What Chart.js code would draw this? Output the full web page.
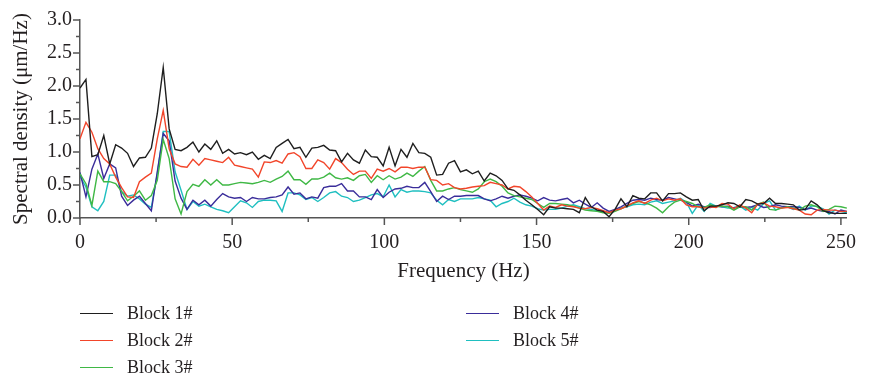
<!DOCTYPE html>
<html>
<head>
<meta charset="utf-8">
<script src="https://cdn.jsdelivr.net/npm/chart.js@4.4.0/dist/chart.umd.min.js"></script>
<style>
  body { margin: 0; background: #fff; }
  #contenedor { position: relative; width: 869px; height: 381px; }
  .leyenda { position: absolute; height: 22px; line-height: 22px; font: 18px "Liberation Serif", serif; color: #231f20; display: flex; align-items: center; white-space: nowrap; }
  .leyenda .linea { display: inline-block; width: 33px; height: 0; border-top: 1.5px solid; margin-right: 14px; }
</style>
</head>
<body>
<div id="contenedor">
  <canvas id="grafico" width="869" height="381"></canvas>
</div>
<script>
// Datos del espectro (paso de frecuencia 500/256 Hz)
const pasoHz = 500 / 256;
const series = ['Block 1#', 'Block 2#', 'Block 3#', 'Block 4#', 'Block 5#'];
const colores = ['#1e1e1e', '#f2452a', '#3fb845', '#3a2d9a', '#1fbfc0'];

const bloque1 = [1.97,2.10,0.93,0.96,1.25,0.82,1.11,1.06,0.98,0.78,
  0.91,0.92,1.06,1.58,2.28,1.35,1.04,1.02,1.07,1.15,
  1.00,1.12,1.04,1.17,0.98,1.04,0.97,0.99,0.96,1.00,
  0.89,0.95,0.90,1.07,1.13,1.19,1.05,1.07,0.92,1.06,
  1.07,1.10,1.03,1.02,0.85,0.98,0.88,0.83,1.03,0.93,
  0.92,0.79,1.07,0.79,1.04,0.92,1.13,0.99,0.98,0.92,
  0.65,0.66,0.83,0.87,0.70,0.73,0.67,0.71,0.56,0.68,
  0.64,0.57,0.44,0.42,0.35,0.27,0.20,0.13,0.05,0.17,
  0.15,0.15,0.14,0.13,0.08,0.31,0.17,0.12,0.10,0.02,
  0.13,0.29,0.17,0.34,0.30,0.29,0.38,0.38,0.26,0.37,
  0.37,0.38,0.32,0.27,0.28,0.11,0.18,0.18,0.20,0.23,
  0.22,0.17,0.28,0.26,0.21,0.22,0.30,0.22,0.22,0.21,
  0.20,0.12,0.13,0.26,0.20,0.11,0.08,0.07,0.07,0.07];

const bloque2 = [1.20,1.45,1.30,1.05,0.90,0.82,0.62,0.46,0.32,0.31,
  0.55,0.62,0.68,1.20,1.63,1.05,0.82,0.78,0.77,0.89,
  0.80,0.90,0.88,0.86,0.84,0.92,0.80,0.78,0.76,0.74,
  0.62,0.85,0.84,0.87,0.83,0.97,0.99,0.93,0.75,0.75,
  0.88,0.84,0.74,0.90,0.84,0.74,0.66,0.71,0.71,0.60,
  0.74,0.71,0.75,0.70,0.77,0.77,0.75,0.77,0.77,0.58,
  0.57,0.50,0.52,0.46,0.44,0.45,0.47,0.48,0.49,0.54,
  0.52,0.50,0.44,0.48,0.47,0.40,0.32,0.22,0.12,0.18,
  0.16,0.20,0.18,0.17,0.15,0.14,0.16,0.14,0.11,0.08,
  0.12,0.14,0.18,0.23,0.26,0.22,0.27,0.30,0.26,0.29,
  0.27,0.29,0.20,0.17,0.17,0.15,0.17,0.16,0.22,0.21,
  0.14,0.20,0.15,0.08,0.21,0.23,0.18,0.17,0.15,0.16,
  0.14,0.12,0.06,0.05,0.12,0.13,0.12,0.12,0.10,0.10];

const bloque3 = [0.67,0.52,0.19,0.71,0.55,0.55,0.52,0.40,0.26,0.33,
  0.41,0.27,0.34,0.57,1.19,0.90,0.29,0.06,0.40,0.51,
  0.48,0.58,0.50,0.58,0.50,0.50,0.52,0.54,0.53,0.52,
  0.54,0.57,0.54,0.59,0.63,0.71,0.58,0.58,0.51,0.59,
  0.59,0.62,0.68,0.61,0.59,0.61,0.57,0.64,0.66,0.54,
  0.64,0.58,0.64,0.59,0.62,0.68,0.63,0.71,0.78,0.57,
  0.41,0.41,0.44,0.46,0.43,0.41,0.39,0.44,0.55,0.59,
  0.55,0.48,0.38,0.34,0.32,0.30,0.28,0.22,0.16,0.22,
  0.22,0.21,0.20,0.18,0.15,0.12,0.11,0.10,0.08,0.07,
  0.10,0.14,0.18,0.22,0.25,0.23,0.20,0.15,0.08,0.17,
  0.24,0.27,0.25,0.22,0.17,0.16,0.20,0.17,0.18,0.17,
  0.12,0.17,0.17,0.12,0.21,0.24,0.13,0.12,0.15,0.17,
  0.15,0.12,0.18,0.20,0.17,0.10,0.13,0.18,0.17,0.15];

const bloque4 = [0.69,0.32,0.74,0.97,0.60,0.82,0.76,0.33,0.19,0.27,
  0.33,0.22,0.11,0.70,1.28,1.17,0.56,0.30,0.13,0.27,
  0.20,0.27,0.18,0.28,0.37,0.32,0.30,0.31,0.25,0.31,
  0.29,0.29,0.31,0.32,0.35,0.47,0.36,0.38,0.29,0.32,
  0.30,0.46,0.48,0.48,0.52,0.41,0.41,0.32,0.32,0.28,
  0.43,0.31,0.39,0.44,0.45,0.48,0.46,0.46,0.54,0.40,
  0.25,0.33,0.28,0.33,0.33,0.34,0.34,0.34,0.29,0.26,
  0.29,0.33,0.30,0.33,0.35,0.33,0.30,0.26,0.31,0.27,
  0.26,0.28,0.30,0.23,0.27,0.21,0.16,0.23,0.15,0.10,
  0.13,0.17,0.22,0.27,0.28,0.27,0.30,0.28,0.27,0.31,
  0.29,0.27,0.24,0.18,0.21,0.17,0.16,0.18,0.17,0.18,
  0.15,0.17,0.16,0.17,0.20,0.16,0.17,0.20,0.18,0.17,
  0.17,0.16,0.13,0.15,0.12,0.10,0.10,0.06,0.12,0.10];

const bloque5 = [0.63,0.47,0.17,0.11,0.25,0.65,0.65,0.40,0.33,0.35,
  0.29,0.21,0.16,0.67,1.31,1.31,0.70,0.42,0.13,0.25,
  0.18,0.21,0.17,0.13,0.11,0.08,0.17,0.26,0.23,0.16,
  0.25,0.27,0.27,0.26,0.10,0.38,0.38,0.35,0.28,0.31,
  0.25,0.31,0.38,0.40,0.33,0.31,0.25,0.27,0.31,0.35,
  0.37,0.32,0.50,0.32,0.43,0.39,0.41,0.41,0.40,0.38,
  0.27,0.20,0.28,0.25,0.29,0.29,0.29,0.31,0.29,0.27,
  0.17,0.22,0.25,0.30,0.24,0.20,0.18,0.14,0.12,0.13,
  0.13,0.15,0.18,0.20,0.17,0.14,0.13,0.11,0.10,0.08,
  0.12,0.15,0.17,0.20,0.21,0.20,0.24,0.26,0.22,0.24,
  0.26,0.30,0.24,0.07,0.20,0.10,0.22,0.18,0.17,0.15,
  0.16,0.18,0.12,0.16,0.12,0.22,0.26,0.12,0.16,0.17,
  0.13,0.18,0.12,0.18,0.18,0.14,0.06,0.12,0.10,0.08];

const frecuencias = bloque1.map((v, i) => i * pasoHz);
const valores = [bloque1, bloque2, bloque3, bloque4, bloque5];

const colorEje = '#555';
const colorTexto = '#231f20';
Chart.defaults.font.family = '"Liberation Serif", serif';
Chart.defaults.color = colorTexto;

const esMayor = (v, paso) => Math.abs(v / paso - Math.round(v / paso)) < 1e-6;

// marcas de los ejes (mayores y menores)
const marcas = {
  id: 'marcas',
  afterDraw(chart) {
    const ctx = chart.ctx;
    const sx = chart.scales.x, sy = chart.scales.y;
    ctx.save();
    ctx.strokeStyle = colorEje;
    ctx.lineWidth = 1.5;
    sx.ticks.forEach(t => {
      const px = sx.getPixelForValue(t.value);
      const largo = esMayor(t.value, 50) ? 7 : 4;
      ctx.beginPath();
      ctx.moveTo(px, sx.top);
      ctx.lineTo(px, sx.top + largo);
      ctx.stroke();
    });
    sy.ticks.forEach(t => {
      const py = sy.getPixelForValue(t.value);
      const largo = esMayor(t.value, 0.5) ? 7 : 4;
      ctx.beginPath();
      ctx.moveTo(sy.right, py);
      ctx.lineTo(sy.right - largo, py);
      ctx.stroke();
    });
    ctx.restore();
  }
};

const grafico = new Chart(document.getElementById('grafico').getContext('2d'), {
  type: 'line',
  data: {
    labels: frecuencias,
    datasets: series.map((nombre, k) => ({
      label: nombre,
      data: valores[k],
      borderColor: colores[k],
      backgroundColor: colores[k],
      borderWidth: 1.4,
      pointRadius: 0,
      tension: 0,
      fill: false
    }))
  },
  options: {
    responsive: false,
    animation: false,
    layout: { padding: { top: 17, right: 12, left: 0, bottom: 0 } },
    plugins: {
      legend: { display: false },
      tooltip: { enabled: false }
    },
    scales: {
      x: {
        type: 'linear',
        min: 0,
        max: 252,
        grid: { display: false, drawTicks: false },
        border: { display: true, color: colorEje, width: 1.5 },
        ticks: {
          stepSize: 25,
          includeBounds: false,
          autoSkip: false,
          maxRotation: 0,
          padding: 13,
          font: { size: 20 },
          callback: v => esMayor(v, 50) ? String(v) : ''
        },
        title: {
          display: true,
          text: 'Frequency (Hz)',
          font: { size: 21 },
          padding: { top: 0, bottom: 97 }
        },
        afterFit: s => { s.height = 163; }
      },
      y: {
        min: 0,
        max: 3,
        grid: { display: false, drawTicks: false },
        border: { display: true, color: colorEje, width: 1.5 },
        ticks: {
          stepSize: 0.25,
          autoSkip: false,
          padding: 8,
          font: { size: 20 },
          callback: v => esMayor(v, 0.5) ? v.toFixed(1) : ''
        },
        title: {
          display: true,
          text: 'Spectral density (μm/Hz)',
          font: { size: 21 },
          padding: { top: 9, bottom: 0 }
        },
        afterFit: s => { s.width = 80; }
      }
    }
  },
  plugins: [marcas]
});

// leyenda en dos columnas, como en la figura
const posiciones = [[80, 313], [80, 340], [80, 367], [466, 313], [466, 340]];
const contenedor = document.getElementById('contenedor');
grafico.data.datasets.forEach((ds, k) => {
  const item = document.createElement('div');
  item.className = 'leyenda';
  item.style.left = posiciones[k][0] + 'px';
  item.style.top = (posiciones[k][1] - 11) + 'px';
  item.innerHTML = `<span class="linea" style="border-color:${ds.borderColor}"></span>${ds.label}`;
  contenedor.appendChild(item);
});
</script>
</body>
</html>
